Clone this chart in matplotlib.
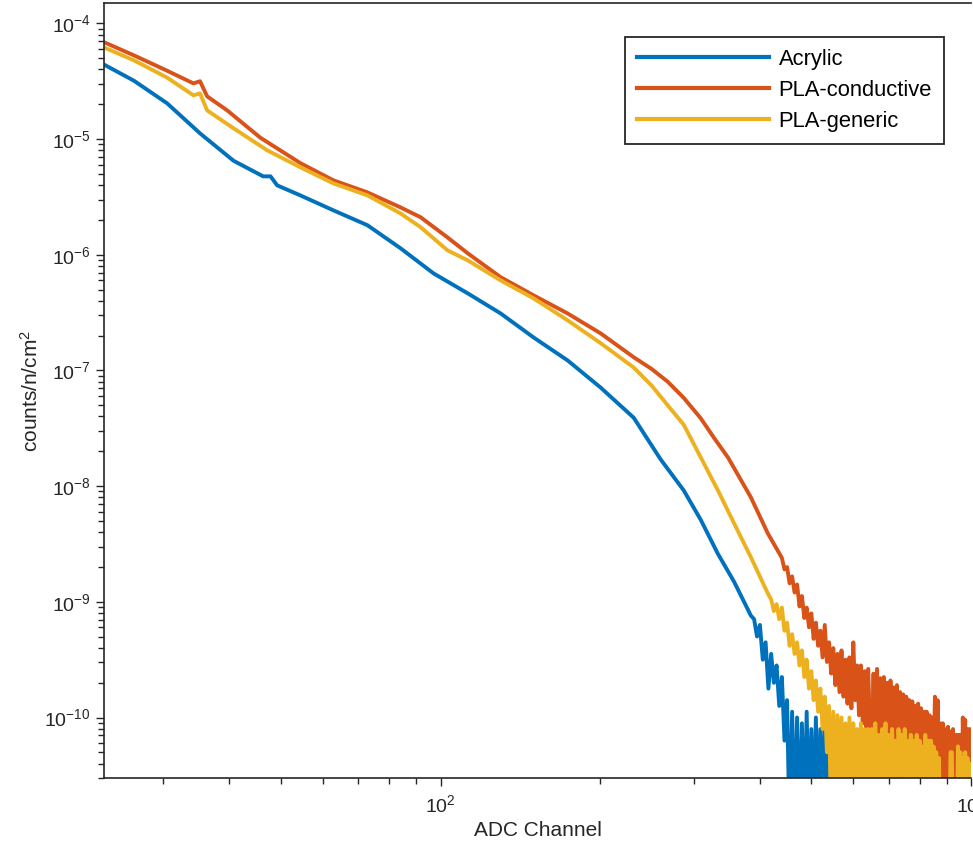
import numpy as np
import matplotlib
matplotlib.use("Agg")
import matplotlib.pyplot as plt
from matplotlib.ticker import LogLocator, NullFormatter

plt.rcParams['font.family'] = ['Liberation Sans', 'DejaVu Sans']
plt.rcParams['mathtext.fontset'] = 'custom'
plt.rcParams['mathtext.rm'] = 'Liberation Sans'
plt.rcParams['mathtext.it'] = 'Liberation Sans:italic'
plt.rcParams['axes.unicode_minus'] = False

labels = ["Acrylic", "PLA-conductive", "PLA-generic"]
colors = ["#0072BD", "#D95319", "#EDB120"]

# smooth part of each spectrum (channel, counts/n/cm^2)
acr_x = [23, 26.4, 30.5, 35.2, 40.7, 46.3, 47.8, 49.2, 54.4, 62.8, 72.8, 84.0, 97.0,
         112.5, 129.8, 149.7, 173.6, 200.4, 231.3, 260, 287.3, 309.5, 333.3, 357.3, 384.6]
acr_y = [4.5e-5, 3.2e-5, 2.04e-5, 1.12e-5, 6.5e-6, 4.76e-6, 4.76e-6, 3.98e-6, 3.26e-6,
         2.42e-6, 1.80e-6, 1.14e-6, 6.9e-7, 4.64e-7, 3.11e-7, 1.93e-7, 1.22e-7, 7.1e-8,
         3.9e-8, 1.7e-8, 9.2e-9, 5.1e-9, 2.6e-9, 1.5e-9, 7.6e-10]

con_x = [23, 26.4, 30.5, 34.2, 35.2, 36.3, 39.6, 45.7, 54.4, 62.8, 72.8, 84.0, 91.7,
         103.1, 112.5, 129.8, 149.7, 173.6, 200.4, 231.3, 250, 268, 287.3, 309.5, 328,
         348.2, 384.6, 414]
con_y = [7.0e-5, 5.3e-5, 3.9e-5, 3.03e-5, 3.16e-5, 2.34e-5, 1.77e-5, 1.03e-5, 6.2e-6,
         4.4e-6, 3.46e-6, 2.57e-6, 2.11e-6, 1.41e-6, 1.03e-6, 6.4e-7, 4.46e-7, 3.11e-7,
         2.09e-7, 1.30e-7, 1.03e-7, 8.0e-8, 5.8e-8, 3.85e-8, 2.6e-8, 1.77e-8, 8.0e-9, 3.9e-9]

gen_x = [23, 26.4, 30.5, 34.2, 35.2, 36.3, 40.7, 47.1, 54.4, 62.8, 72.8, 84.0, 91.7,
         103.1, 112.5, 129.8, 149.7, 173.6, 200.4, 231.3, 250, 268, 287.3, 309.5, 333.3,
         357.3, 384.6, 414]
gen_y = [6.3e-5, 4.8e-5, 3.4e-5, 2.39e-5, 2.48e-5, 1.77e-5, 1.24e-5, 8.0e-6, 5.7e-6,
         4.14e-6, 3.26e-6, 2.28e-6, 1.73e-6, 1.09e-6, 8.95e-7, 6.0e-7, 4.2e-7, 2.71e-7,
         1.72e-7, 1.06e-7, 7.4e-8, 5.0e-8, 3.4e-8, 1.77e-8, 9.2e-9, 4.8e-9, 2.43e-9, 1.18e-9]

# noisy tails, log10 of counts (every 5 channels)
acr_tail = [-9.15, -9.30, -9.20, -9.50, -9.35, -9.75, -9.45, -9.70, -9.55, -9.90,   # 390
            -9.65, -10.2, -9.85, -11.0, -9.95, -11.0, -10.0, -11.0, -10.05, -11.0,  # 440
            -9.95, -11.0, -10.1, -11.0, -10.0, -11.0, -10.1, -11.0, -10.05, -11.0,  # 490
            -10.15, -11.0, -10.1, -11.0, -10.2, -11.0, -10.1, -11.0, -10.2, -11.0,  # 540
            -10.15, -11.0, -10.3, -11.0, -10.2, -11.0, -10.3, -11.0, -10.25, -11.0, # 590
            -10.3, -11.0, -10.3, -11.0, -10.4, -11.0, -10.3, -11.0, -10.3, -11.0,   # 640
            -10.35, -11.0, -10.3, -11.0, -10.4, -11.0, -10.3, -11.0, -10.3, -11.0,  # 690
            -10.3, -11.0, -10.35, -11.0, -10.3, -11.0, -10.4, -11.0, -10.3, -11.0,  # 740
            -10.3, -11.0, -10.3, -11.0, -10.35, -11.0, -10.3, -11.0, -10.3, -11.0,  # 790
            -10.3, -11.0, -10.1, -10.1, -11.0, -10.3, -11.0, -10.3, -11.0, -10.3,   # 840
            -11.0, -10.3, -11.0, -10.3, -10.3, -11.0, -10.3, -11.0, -10.28, -10.28, # 890
            -10.28, -10.28, -11.0, -10.28, -10.28, -10.28, -10.28, -10.28, -10.28,  # 940
            -10.28, -10.28, -10.28]                                                 # 985

con_tail = [-8.62, -8.72, -8.70, -8.84, -8.78, -8.92, -8.85, -9.04, -8.95, -9.14,   # 440
            -9.05, -9.22, -9.10, -9.32, -9.18, -9.38, -9.25, -9.48, -9.20, -9.52,   # 490
            -9.35, -9.62, -9.40, -9.72, -9.45, -9.78, -9.42, -9.82, -9.50, -9.88,   # 540
            -9.48, -9.92, -9.35, -9.85, -9.55, -9.98, -9.55, -10.05, -9.60, -10.1,  # 590
            -9.58, -10.1, -10.3, -9.62, -10.5, -9.58, -10.2, -9.66, -11.0, -9.65,   # 640
            -10.3, -9.70, -10.6, -9.68, -10.2, -9.74, -11.0, -9.72, -10.4, -9.78,   # 690
            -10.3, -9.80, -10.7, -9.82, -10.2, -9.85, -11.0, -9.86, -10.4, -9.90,   # 740
            -10.3, -9.88, -11.0, -9.92, -10.3, -9.95, -10.6, -9.95, -11.0, -9.98,   # 790
            -10.3, -10.0, -10.5, -9.82, -11.0, -9.85, -11.0, -10.05, -11.0, -10.05, # 840
            -11.0, -10.1, -11.0, -10.08, -11.0, -10.12, -10.5, -10.1, -11.0, -10.15,# 890
            -11.0, -10.15, -11.0, -10.15, -11.0, -10.0, -10.5, -10.02, -11.0, -10.1,# 940
            -10.4, -10.1, -10.2]                                                    # 990

gen_tail = [-8.98, -9.08, -9.02, -9.15, -9.05, -9.25, -9.18, -9.38, -9.28, -9.45,   # 420
            -9.35, -9.55, -9.42, -9.65, -9.50, -9.75, -9.60, -9.85, -9.68, -9.95,   # 470
            -9.75, -10.1, -9.82, -10.3, -9.90, -11.0, -9.95, -11.0, -9.98, -11.0,   # 520
            -10.0, -11.0, -10.05, -11.0, -10.0, -11.0, -10.05, -11.0, -10.1, -11.0, # 570
            -10.05, -11.0, -10.1, -11.0, -10.1, -11.0, -10.1, -11.0, -10.05, -11.0, # 620
            -10.15, -11.0, -10.1, -10.6, -10.05, -11.0, -10.15, -11.0, -10.1, -11.0,# 670
            -10.2, -11.0, -10.1, -10.5, -10.15, -11.0, -10.1, -11.0, -10.2, -11.0,  # 720
            -10.15, -10.6, -10.2, -11.0, -10.15, -11.0, -10.2, -11.0, -10.25, -11.0,# 770
            -10.15, -11.0, -10.2, -10.7, -10.2, -11.0, -10.25, -11.0, -10.3, -11.0, # 820
            -10.35, -11.0, -11.0, -11.0, -11.0, -11.0, -11.0, -11.0, -11.0, -10.3,  # 870
            -10.3, -11.0, -11.0, -11.0, -11.0, -10.25, -11.0, -10.3, -11.0, -10.35, # 920
            -11.0, -10.3, -11.0, -10.35, -11.0, -10.4]                              # 970

acr_ch = list(range(390, 1001, 5))
con_ch = list(range(440, 1001, 5))
gen_ch = list(range(420, 1001, 5))

series = [
    (acr_x, acr_y, acr_ch, acr_tail),
    (con_x, con_y, con_ch, con_tail),
    (gen_x, gen_y, gen_ch, gen_tail),
]

fig = plt.figure(figsize=(9.73, 8.51), dpi=100)
ax = fig.add_axes([104/973, 1 - 778/851, 867/973, 775/851])

for (sx, sy, ch, tl), lab, col in zip(series, labels, colors):
    n = min(len(ch), len(tl))
    x = np.concatenate([sx, ch[:n]])
    y = np.concatenate([sy, 10.0 ** np.array(tl[:n])])
    ax.plot(x, y, color=col, lw=2.8, label=lab)

ax.set_xscale('log')
ax.set_yscale('log')
ax.set_xlim(23.2, 1000)
ax.set_ylim(3e-11, 1.5e-4)

ax.yaxis.set_major_locator(LogLocator(base=10, numticks=20))
ax.yaxis.set_minor_locator(LogLocator(base=10, subs=np.arange(2, 10), numticks=20))
ax.yaxis.set_minor_formatter(NullFormatter())
ax.xaxis.set_minor_formatter(NullFormatter())

dark = '#262626'
for s in ['left', 'bottom', 'top']:
    ax.spines[s].set_color(dark)
    ax.spines[s].set_linewidth(1.2)
ax.spines['right'].set_visible(False)
ax.tick_params(which='both', direction='out', colors=dark, width=1.0,
               labelsize=14, labelcolor=dark)
ax.tick_params(which='major', length=6)
ax.tick_params(which='minor', length=4)
ax.tick_params(axis='x', which='both', pad=6)

ax.set_xlabel("ADC Channel", fontsize=15, color=dark, labelpad=3)
ax.set_ylabel("counts/n/cm$^2$", fontsize=15, color=dark, labelpad=2)

leg = ax.legend(loc='upper right', bbox_to_anchor=(0.969, 0.956), borderaxespad=0,
                fontsize=15.8, handlelength=6.0, handletextpad=0.45, borderpad=0.55,
                labelspacing=0.45, fancybox=False, framealpha=1)
leg.get_frame().set_edgecolor('#262626')
leg.get_frame().set_linewidth(1.3)
for h in leg.get_lines():
    h.set_linewidth(3)

fig.savefig("out.png", dpi=100)
